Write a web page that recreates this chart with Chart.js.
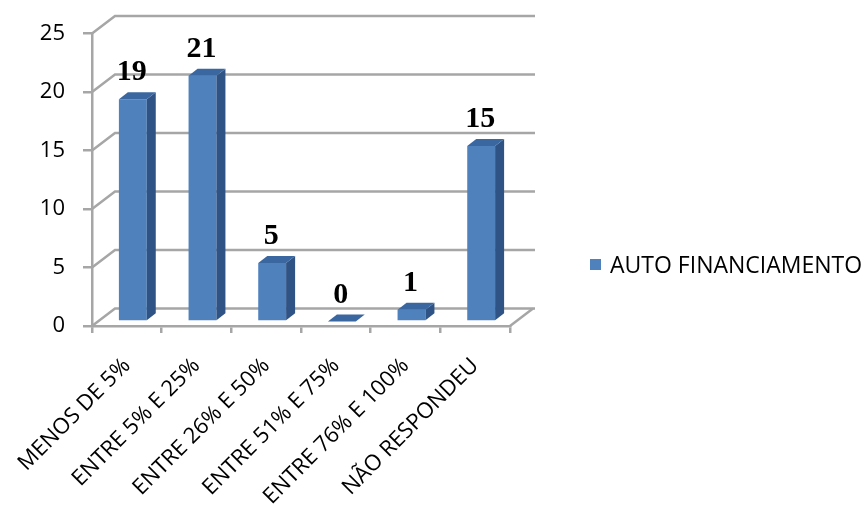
<!DOCTYPE html>
<html>
<head>
<meta charset="utf-8">
<script src="https://cdn.jsdelivr.net/npm/chart.js@4.4.0/dist/chart.umd.min.js"></script>
<style>
  html, body { margin: 0; padding: 0; background: #fff; }
</style>
</head>
<body>
<canvas id="chart" width="868" height="512"></canvas>
<script>
const categories = [
  "MENOS DE 5%",
  "ENTRE 5% E 25%",
  "ENTRE 26% E 50%",
  "ENTRE 51% E 75%",
  "ENTRE 76% E 100%",
  "NÃO RESPONDEU",
];
const autoFinanciamento = [19, 21, 5, 0, 1, 15];
const seriesName = "AUTO FINANCIAMENTO";
const yMax = 25;
const yStep = 5;

// fake 3D: depth of the box and of the bars, in pixels
const BOX_DEPTH = { x: 23, y: -17.5 };
const BAR_SHIFT = { x: 6, y: -4.5 };
const BAR_DEPTH = { x: 9, y: -7 };
const LINE_COLOR = "#a6a6a6";
const SANS = "'Open Sans', sans-serif";

const box3d = {
  id: "box3d",
  beforeDatasetsDraw(chart) {
    const { ctx, chartArea, scales } = chart;
    const y = scales.y;
    ctx.save();
    ctx.strokeStyle = LINE_COLOR;
    ctx.lineWidth = 2.5;
    ctx.lineCap = "butt";
    y.ticks.forEach((t) => {
      const py = y.getPixelForValue(t.value);
      ctx.beginPath();
      ctx.moveTo(chartArea.left, py);
      ctx.lineTo(chartArea.left + BOX_DEPTH.x, py + BOX_DEPTH.y);
      ctx.lineTo(chartArea.right + BOX_DEPTH.x + 2, py + BOX_DEPTH.y);
      ctx.stroke();
    });
    // right edge of the floor
    ctx.beginPath();
    ctx.moveTo(chartArea.right, chartArea.bottom);
    ctx.lineTo(chartArea.right + BOX_DEPTH.x, chartArea.bottom + BOX_DEPTH.y);
    ctx.stroke();
    ctx.restore();

    ctx.save();
    ctx.translate(BAR_SHIFT.x, BAR_SHIFT.y);
  },
  afterDatasetsDraw(chart) {
    const { ctx } = chart;
    const bars = chart.getDatasetMeta(0).data;
    bars.forEach((bar) => {
      const l = bar.x - bar.width / 2;
      const r = bar.x + bar.width / 2;
      const top = bar.y;
      const base = bar.base;
      // side face
      ctx.fillStyle = "#2f5384";
      ctx.beginPath();
      ctx.moveTo(r, base);
      ctx.lineTo(r + BAR_DEPTH.x, base + BAR_DEPTH.y);
      ctx.lineTo(r + BAR_DEPTH.x, top + BAR_DEPTH.y);
      ctx.lineTo(r, top);
      ctx.closePath();
      ctx.fill();
      // top face
      ctx.fillStyle = "#3b67a0";
      ctx.beginPath();
      ctx.moveTo(l, top);
      ctx.lineTo(l + BAR_DEPTH.x, top + BAR_DEPTH.y);
      ctx.lineTo(r + BAR_DEPTH.x, top + BAR_DEPTH.y);
      ctx.lineTo(r, top);
      ctx.closePath();
      ctx.fill();
    });
    // value labels
    ctx.fillStyle = "#000";
    ctx.font = "bold 30px 'Liberation Serif', serif";
    ctx.textAlign = "center";
    ctx.textBaseline = "alphabetic";
    bars.forEach((bar, i) => {
      ctx.fillText(String(autoFinanciamento[i]), bar.x - 1, bar.y - 19);
    });
    ctx.restore();
  },
  afterDraw(chart) {
    const { ctx } = chart;
    const ds = chart.data.datasets[0];
    ctx.save();
    ctx.fillStyle = ds.backgroundColor;
    ctx.fillRect(590, 259, 11, 11);
    ctx.fillStyle = "#000";
    ctx.font = "23px " + SANS;
    ctx.textAlign = "left";
    ctx.textBaseline = "middle";
    ctx.fillText(ds.label, 610, 266);
    ctx.restore();
  },
};

new Chart(document.getElementById("chart"), {
  type: "bar",
  data: {
    labels: categories,
    datasets: [
      {
        label: seriesName,
        data: autoFinanciamento,
        backgroundColor: "#4f81bd",
        barPercentage: 0.4,
        categoryPercentage: 1,
      },
    ],
  },
  options: {
    responsive: false,
    animation: false,
    devicePixelRatio: 1,
    layout: { padding: { left: 0, top: 33.5, right: 358, bottom: 0 } },
    plugins: {
      legend: { display: false },
      tooltip: { enabled: false },
    },
    scales: {
      x: {
        grid: {
          drawOnChartArea: false,
          offset: true,
          tickLength: 7,
          color: LINE_COLOR,
          lineWidth: 2.5,
        },
        border: { color: LINE_COLOR, width: 2.5 },
        ticks: {
          minRotation: 45,
          maxRotation: 45,
          padding: 20,
          color: "#000",
          font: { family: SANS, size: 22 },
        },
        afterFit: (scale) => {
          scale.height = 186;
          scale.paddingLeft = 0;
          scale.paddingRight = 0;
        },
      },
      y: {
        min: 0,
        max: yMax,
        grid: {
          drawOnChartArea: false,
          tickLength: 9,
          color: LINE_COLOR,
          lineWidth: 2.5,
        },
        border: { color: LINE_COLOR, width: 2.5 },
        ticks: {
          stepSize: yStep,
          padding: 18,
          color: "#000",
          font: { family: SANS, size: 22 },
        },
        afterFit: (scale) => {
          scale.width = 92;
        },
      },
    },
  },
  plugins: [box3d],
});
</script>
</body>
</html>
